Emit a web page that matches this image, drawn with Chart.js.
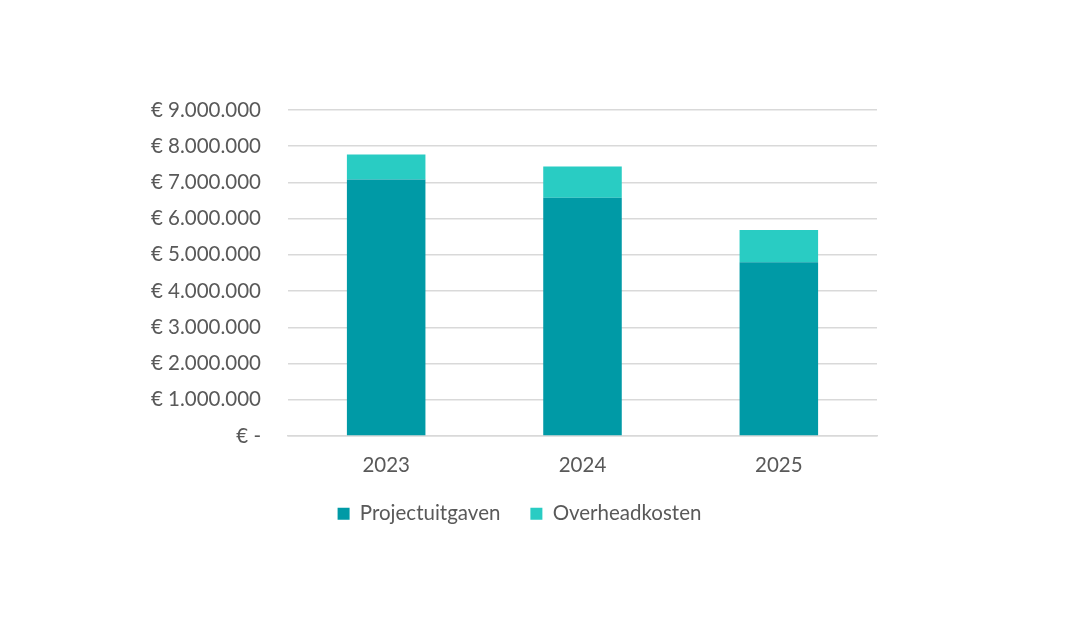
<!DOCTYPE html>
<html>
<head>
<meta charset="utf-8">
<script src="https://cdn.jsdelivr.net/npm/chart.js@4"></script>
<style>
  html, body { margin: 0; padding: 0; background: #fff; }
  #wrap { width: 1091px; height: 633px; }
</style>
</head>
<body>
<div id="wrap"><canvas id="chart" width="1091" height="633"></canvas></div>
<script>
const years = ['2023', '2024', '2025'];
const projectuitgaven = [7080000, 6580000, 4800000];
const overheadkosten = [690000, 860000, 890000];
const yMax = 9000000;
const yStep = 1000000;

const textColor = '#595959';
const fontFamily = 'Lato, "Open Sans", sans-serif';
const fontSize = 20.5;

function euro(value) {
  if (value === 0) return '€ -';
  return '€ ' + value.toString().replace(/\B(?=(\d{3})+(?!\d))/g, '.');
}

// legend sits a bit right of the page centre, under the plot
const legendShift = {
  id: 'legendShift',
  afterLayout(chart) {
    chart.legend.left += 16;
    chart.legend.right += 16;
  }
};

const ctx = document.getElementById('chart').getContext('2d');
new Chart(ctx, {
  type: 'bar',
  data: {
    labels: years,
    datasets: [
      {
        label: 'Projectuitgaven',
        data: projectuitgaven,
        backgroundColor: '#009AA6',
        categoryPercentage: 1,
        barPercentage: 0.4
      },
      {
        label: 'Overheadkosten',
        data: overheadkosten,
        backgroundColor: '#29CCC3',
        categoryPercentage: 1,
        barPercentage: 0.4
      }
    ]
  },
  options: {
    responsive: false,
    animation: false,
    layout: {
      padding: { left: 130, right: 214, top: 110, bottom: 99 }
    },
    plugins: {
      legend: {
        position: 'bottom',
        labels: {
          color: textColor,
          font: { family: fontFamily, size: fontSize },
          boxWidth: 12,
          boxHeight: 12,
          padding: 30
        }
      },
      tooltip: { enabled: false }
    },
    scales: {
      x: {
        stacked: true,
        grid: { display: false },
        border: { color: '#D9D9D9', width: 1.5 },
        ticks: {
          color: textColor,
          font: { family: fontFamily, size: fontSize },
          padding: 9
        },
        afterFit: (scale) => { scale.height = 37.5; }
      },
      y: {
        stacked: true,
        min: 0,
        max: yMax,
        grid: { color: '#D9D9D9', lineWidth: 1.5, drawTicks: false },
        border: { display: false },
        ticks: {
          stepSize: yStep,
          color: textColor,
          font: { family: fontFamily, size: fontSize },
          padding: 27,
          callback: (v) => euro(v)
        },
        afterFit: (scale) => { scale.width = 158; }
      }
    }
  },
  plugins: [legendShift]
});
</script>
</body>
</html>
